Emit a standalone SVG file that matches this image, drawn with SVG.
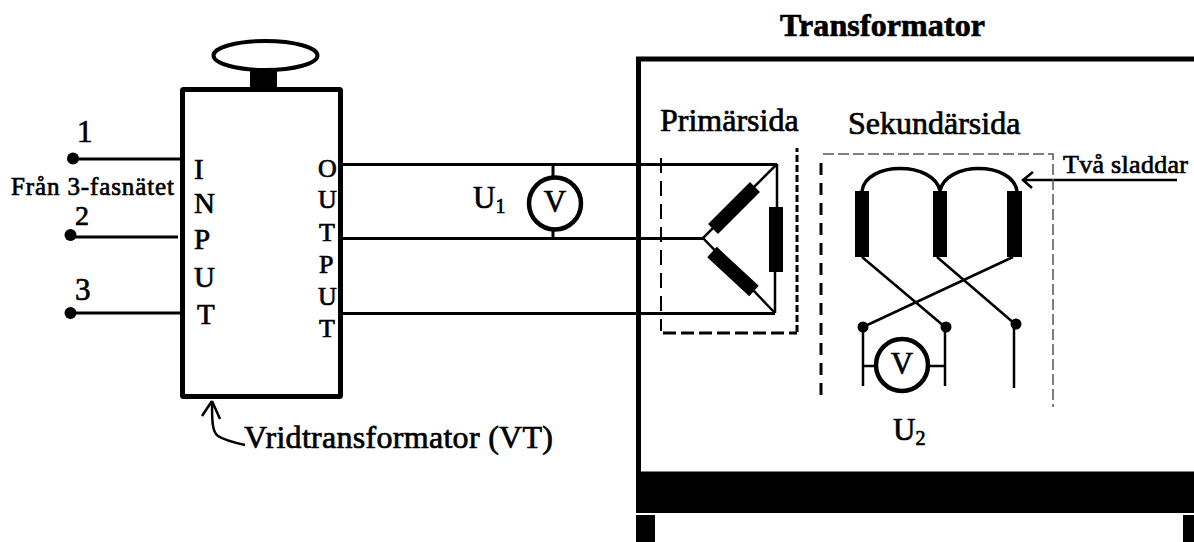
<svg xmlns="http://www.w3.org/2000/svg" width="1194" height="542" viewBox="0 0 1194 542">
<style>
text{font-family:"Liberation Serif",serif;fill:#000;stroke:#000;stroke-width:.7}
.w{fill:none;stroke:#000;stroke-width:3}
.t{fill:none;stroke:#000;stroke-width:2.5}
.big{font-size:32px}
.l{font-size:31px}
</style>
<rect width="1194" height="542" fill="#fff"/>
<g id="vt">
<ellipse cx="265.500" cy="55.500" rx="52" ry="14.500" fill="none" stroke="#000" stroke-width="4"/>
<rect x="250" y="71" width="27" height="17"/>
<rect x="182.500" y="89.500" width="158" height="307" rx="1" fill="none" stroke="#000" stroke-width="5"/>
<g font-size="29"><text x="194" y="179">I</text><text x="194" y="213">N</text><text x="194" y="249">P</text><text x="194" y="287">U</text><text x="197" y="324">T</text></g>
<g font-size="26"><text x="318" y="177">O</text><text x="318" y="208">U</text><text x="319" y="241">T</text><text x="319" y="273">P</text><text x="318" y="305">U</text><text x="319" y="337">T</text></g>
</g>
<g id="connectors">
<path class="w" d="M73 159H180M70 237H178M70 313H180"/>
<path class="w" d="M342 164.500H777M342 238.500H704M342 313.500H775"/>
<path class="w" d="M553 164V178M553 228V238"/>
<path class="t" d="M777 164L703 238L775 313M777 164V215M775 313V270"/>
<path class="t" d="M862 257L945 327M937 257L1015 324M1013 257L863 327"/>
<path class="t" d="M863 327V386M945 327V386M1014 324V388M863 366H875M930 366H945"/>
<path d="M862 191C866 161 934 161 940 191C946 161 1012 161 1017 191" fill="none" stroke="#000" stroke-width="3.500"/>
<path class="t" d="M1177 180H1023M1033 172L1023 180L1032 188"/>
<path class="t" d="M212 401C212 420 212 432 218 436C224 440 236 443 245 445M212 401L202 416M212 401L220 419"/>
</g>
<g id="terminals"><circle cx="73" cy="158.500" r="6"/><circle cx="70.500" cy="235" r="6"/><circle cx="70.500" cy="313" r="6"/><text x="77" y="142" class="l">1</text><text x="75" y="224.500" font-size="28">2</text><text x="75" y="300" class="l">3</text><text x="11" y="194.500" font-size="25" textLength="163">Från 3-fasnätet</text></g>
<g id="u1"><circle cx="555" cy="203.500" r="26" fill="#fff" stroke="#000" stroke-width="4.500"/><text x="555" y="212" class="l" text-anchor="middle">V</text><text x="473" y="208" class="l">U<tspan font-size="20" dy="5">1</tspan></text></g>
<g id="transformator">
<path d="M638.500 472V59H1194" fill="none" stroke="#000" stroke-width="5"/>
<rect x="636" y="471.500" width="558" height="41.500"/>
<rect x="636" y="515" width="19" height="27"/><rect x="1183" y="515" width="11" height="27"/>
<text x="780" y="36" class="big" font-weight="bold" textLength="205">Transformator</text>
</g>
<g id="primar">
<text x="660" y="131" class="big">Primärsida</text>
<path d="M661 158V331" fill="none" stroke="#000" stroke-width="2" stroke-dasharray="15 8"/>
<path d="M663 333H797" fill="none" stroke="#000" stroke-width="3" stroke-dasharray="13 5"/>
<path d="M797 332V148" fill="none" stroke="#000" stroke-width="3" stroke-dasharray="7 3"/>
<rect x="769" y="207" width="14" height="65"/>
<path d="M713 229L755 187" stroke="#000" stroke-width="14" fill="none"/>
<path d="M712 252L754 291" stroke="#000" stroke-width="14" fill="none"/>
</g>
<g id="sekundar">
<text x="848" y="134" class="big">Sekundärsida</text>
<path d="M823 154H1053V407" fill="none" stroke="#555" stroke-width="1.500" stroke-dasharray="11 4"/>
<path d="M821 163V397" fill="none" stroke="#000" stroke-width="3" stroke-dasharray="12 8"/>
<rect x="855" y="191" width="14" height="66"/><rect x="933" y="191" width="14" height="66"/><rect x="1007" y="191" width="15" height="66"/>
<circle cx="863" cy="327" r="5.500"/><circle cx="946" cy="327" r="5.500"/><circle cx="1016" cy="324" r="5.500"/>
<circle cx="902" cy="365" r="26" fill="#fff" stroke="#000" stroke-width="4.500"/>
<text x="902" y="374" class="l" text-anchor="middle">V</text>
<text x="893" y="440" class="l">U<tspan font-size="20" dy="5">2</tspan></text>
<text x="1063" y="173" font-size="26" textLength="125">Två sladdar</text>
</g>
<text id="vt-label" x="244" y="448" class="big" textLength="309">Vridtransformator (VT)</text>
</svg>
